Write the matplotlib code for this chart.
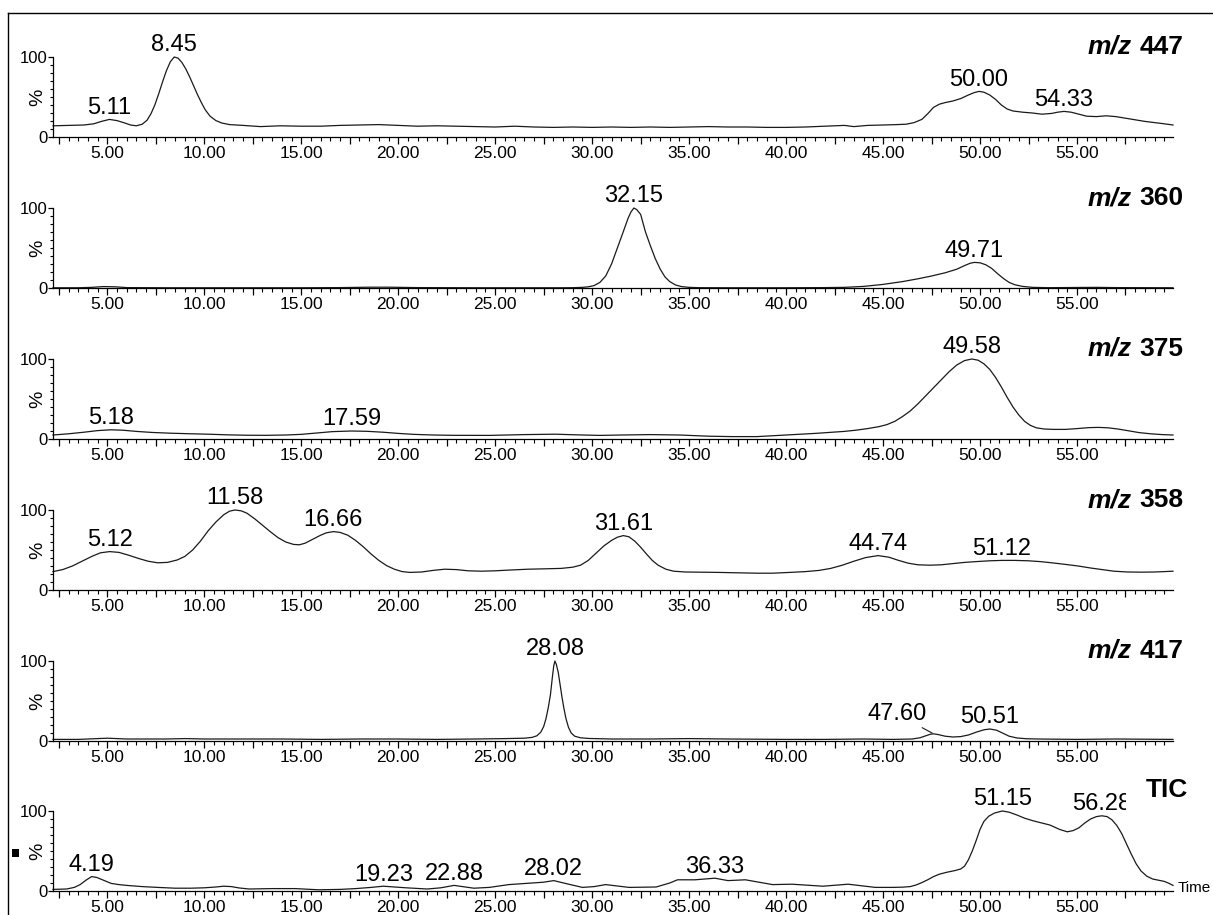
import matplotlib
matplotlib.use("Agg")
import matplotlib.pyplot as plt
from matplotlib.ticker import MultipleLocator, FixedLocator, FuncFormatter
from matplotlib.patches import Rectangle
from matplotlib.lines import Line2D

plt.rcParams['font.family'] = ['Liberation Sans', 'DejaVu Sans']

# ---- traces (retention time in min, relative intensity in %) ----
t_447 = [2.2, 3.0, 3.8, 4.3, 4.7, 5.11, 5.5, 5.9, 6.2, 6.5, 6.8, 7.05, 7.25, 7.45, 7.65, 7.85, 8.05, 8.25,
         8.45, 8.65, 8.85, 9.05, 9.25, 9.45, 9.65, 9.85, 10.05, 10.3, 10.6, 10.9, 11.3, 12.0, 12.9, 13.9,
         15, 16, 17, 18, 19, 20, 21, 22, 23, 24, 25, 26, 27, 28, 29, 30, 31, 32, 33, 34, 35, 36, 37, 38,
         39, 40, 41, 42, 43, 43.5, 44.2, 45, 45.7, 46.2, 46.6, 47.0, 47.3, 47.6, 47.9, 48.2, 48.6, 49.0,
         49.4, 49.7, 49.95, 50.2, 50.5, 50.8, 51.1, 51.4, 51.7, 52.2, 52.7, 53.2, 53.7, 54.0, 54.33, 54.7,
         55.1, 55.5, 56.0, 56.5, 57.0, 57.5, 58.0, 58.5, 59.0, 59.5, 59.95]
y_447 = [14, 14.5, 15, 16.5, 19.5, 22, 20.5, 17.5, 15, 14, 16, 21, 29, 40, 54, 69, 83, 94,
         100, 98.5, 93, 85, 75, 64, 53, 43, 34, 26, 20.5, 17.5, 15.5, 14.5, 13, 14,
         13.5, 13.5, 14.5, 15, 15.5, 14.5, 13.5, 14, 13.5, 13, 12.5, 13.5, 12.5, 12, 12.5, 12, 12.5, 12, 12.5, 12, 12.5, 13, 12.5, 12.5,
         12, 12, 12.5, 13.5, 14.5, 13, 14.5, 15, 15.5, 16, 18, 22, 29, 37, 41, 43, 45, 48,
         52.5, 55.5, 57, 56, 52.5, 47, 40, 35, 32.5, 31, 30, 28.5, 29.5, 31, 32, 31,
         28.5, 26, 25.5, 26.5, 25.5, 23.5, 21.5, 19.5, 18, 16.5, 15]

t_360 = [2.2, 3.5, 4.2, 4.8, 5.4, 6.0, 8, 10, 12, 15, 17, 18.5, 19.5, 21, 24, 27, 28.5, 29.0, 29.5,
         29.8, 30.1, 30.4, 30.7, 31.0, 31.3, 31.6, 31.85, 32.0, 32.15, 32.3, 32.5, 32.75, 33.0, 33.25,
         33.5, 33.75, 34.0, 34.3, 34.6, 35.0, 35.5, 37, 40, 42, 43, 44, 45, 46, 46.8, 47.5, 48.2, 48.8,
         49.2, 49.5, 49.71, 50.0, 50.3, 50.6, 50.9, 51.2, 51.5, 51.8, 52.2, 52.7, 53.5, 56, 57, 59.95]
y_360 = [0.3, 0.3, 0.8, 1.8, 1.5, 0.5, 0.3, 0.3, 0.3, 0.3, 0.5, 1, 1, 0.5, 0.3, 0.3, 0.3, 0.4, 0.8,
         1.5, 3, 7, 15, 30, 50, 70, 87, 95, 100, 98, 92, 70, 53, 37,
         24, 14, 8, 3.8, 1.8, 0.8, 0.4, 0.3, 0.3, 0.5, 0.8, 2, 4.5, 8, 11.5, 15, 19, 23.5,
         28, 31, 32, 31.5, 29, 24.5, 18, 12, 7, 4, 2, 0.8, 0.4, 0.8, 0.5, 0.3]

t_375 = [2.2, 3.0, 3.8, 4.5, 5.18, 5.8, 6.5, 7.3, 8.2, 9.2, 10.2, 11.2, 12.2, 13.2, 14.2, 15.0, 15.8,
         16.6, 17.59, 18.4, 19.2, 20.0, 20.8, 21.8, 22.8, 24.7, 26.5, 28.1, 29.5, 30.4, 31.5, 33, 34.5,
         36, 37.2, 38.5, 40, 41.5, 43, 43.6, 44.2, 44.8, 45.2, 45.6, 46.0, 46.4, 46.8, 47.2, 47.6, 48.0,
         48.4, 48.8, 49.2, 49.58, 49.9, 50.2, 50.5, 50.8, 51.1, 51.4, 51.7, 52.0, 52.3, 52.6, 52.9, 53.3,
         53.8, 54.4, 55.0, 55.6, 56.1, 56.6, 57.1, 57.6, 58.2, 58.8, 59.4, 59.95]
y_375 = [5, 6.5, 8.5, 10.5, 11.5, 11, 9.5, 8.2, 7.3, 6.6, 6, 5.2, 4.7, 4.6, 5, 5.8, 7.5,
         9.2, 10, 9.6, 8.5, 7, 5.8, 5, 4.6, 4.5, 5.5, 6, 5, 4.5, 5, 5.5, 5,
         3.5, 3, 3, 5, 7, 9.5, 11, 13, 15.5, 18, 22, 28, 35, 44, 54, 64, 74,
         84, 92.5, 98, 100, 98.5, 94, 87, 77, 65, 52, 40, 30, 22, 17, 14, 12.5,
         12, 12, 13, 14.2, 14.5, 14, 12.5, 10.5, 8, 6.5, 5.5, 5]

t_358 = [2.2, 2.7, 3.2, 3.7, 4.2, 4.65, 5.12, 5.6, 6.1, 6.6, 7.1, 7.6, 8.1, 8.6, 9.0, 9.4, 9.8, 10.2,
         10.6, 11.0, 11.3, 11.58, 11.9, 12.2, 12.6, 13.0, 13.4, 13.8, 14.2, 14.6, 14.9, 15.2, 15.6, 16.0,
         16.3, 16.66, 17.0, 17.4, 17.8, 18.2, 18.6, 19.0, 19.4, 19.8, 20.2, 20.6, 21.2, 21.8, 22.4, 23.0,
         23.6, 24.3, 25.0, 25.8, 26.7, 27.6, 28.4, 29.0, 29.4, 29.8, 30.2, 30.6, 31.0, 31.3, 31.61, 31.9,
         32.2, 32.5, 32.8, 33.1, 33.4, 33.8, 34.2, 34.8, 35.5, 36.5, 37.5, 38.5, 39.3, 40.2, 41.0, 41.7,
         42.3, 42.9, 43.5, 44.1, 44.74, 45.3, 45.8, 46.3, 46.8, 47.4, 48.0, 48.6, 49.2, 49.8, 50.5, 51.12,
         51.8, 52.5, 53.1, 53.7, 54.4, 55.06, 55.7, 56.3, 56.9, 57.6, 58.3, 59.0, 59.5, 59.95]
y_358 = [23, 25.5, 30, 36, 42, 46.5, 48, 47, 43.5, 39.5, 36, 34, 34.5, 37.5, 42, 50, 61, 74,
         85, 94, 98.5, 100, 99, 96, 89, 81, 73, 65.5, 60, 57, 56.5, 58.5, 63.5, 68.5,
         71.5, 73, 72, 68.5, 62, 54, 45, 37, 30.5, 26, 23, 22, 22.5, 24.5, 26, 25.5,
         24, 23.5, 24, 25, 26, 26.5, 27, 28.5, 31, 37, 46, 55, 62, 66, 68, 66.5,
         61, 53.5, 45, 37, 31, 26, 23.5, 22.5, 22.3, 22, 21.5, 21, 21, 22, 23, 24.5,
         27, 31, 36, 40.5, 43, 41, 37, 33.5, 31.5, 31, 31.5, 33, 34.5, 35.5, 36.5, 37,
         37, 36.5, 35.5, 34, 32, 30, 27.5, 25.5, 23.5, 22.5, 22.3, 22.5, 23, 23.5]

t_417 = [2.2, 3.5, 5, 6, 8, 9, 10, 12, 14, 16, 18, 20, 22, 24, 25.5, 26.5, 26.9, 27.15, 27.35, 27.5,
         27.62, 27.74, 27.85, 27.95, 28.02, 28.08, 28.15, 28.25, 28.35, 28.45, 28.55, 28.65, 28.78, 28.92,
         29.1, 29.4, 29.8, 31, 33, 35, 37, 40, 42, 44, 45.5, 46.5, 46.9, 47.2, 47.45, 47.6, 47.85, 48.2,
         48.6, 49.0, 49.4, 49.8, 50.2, 50.51, 50.85, 51.2, 51.5, 51.9, 52.4, 53, 55, 57, 59.95]
y_417 = [2, 2, 3.5, 2.5, 2.5, 3, 2.5, 2.5, 2.5, 2, 2.5, 2.5, 2, 2.5, 3, 3.5, 4.5, 6.5, 11, 18,
         28, 42, 58, 80, 94, 100, 96, 86, 70, 54, 40, 28, 17, 10,
         6, 4, 3.2, 2.5, 2.5, 3, 2.5, 2, 2, 2.5, 2, 2.5, 4, 6.5, 8.5, 9, 8, 6,
         5, 5.5, 7.5, 11, 14, 15, 13.5, 9.5, 6, 3.8, 2.8, 2.5, 2, 2.5, 2]

t_tic = [2.2, 2.9, 3.3, 3.6, 3.9, 4.19, 4.45, 4.8, 5.2, 5.6, 6.0, 6.8, 7.6, 8.5, 9.3, 10.0, 10.6, 11.0,
         11.4, 11.8, 12.3, 13.5, 14.7, 15.9, 17.0, 17.8, 18.6, 19.23, 20.4, 21.5, 22.2, 22.88, 23.9,
         24.7, 25.7, 26.9, 27.5, 28.02, 28.7, 29.5, 30.1, 30.7, 31.9, 33.3, 34.0, 34.4, 35.3, 36.33,
         37.0, 37.9, 38.6, 39.3, 40.3, 41.9, 43.2, 44.6, 45.5, 46.0, 46.4, 46.7, 47.0, 47.3, 47.6, 47.9,
         48.3, 48.7, 49.0, 49.2, 49.4, 49.6, 49.8, 50.0, 50.2, 50.45, 50.75, 51.15, 51.5, 51.9, 52.3,
         52.7, 53.1, 53.6, 54.1, 54.5, 54.8, 55.1, 55.4, 55.7, 56.0, 56.28, 56.55, 56.8, 57.05, 57.3,
         57.55, 57.8, 58.05, 58.3, 58.6, 58.9, 59.2, 59.5, 59.75, 59.95]
y_tic = [2, 2.5, 4.5, 8, 13.5, 18, 17, 13.5, 9.5, 8, 7, 5.5, 4.5, 3.5, 3.5, 4, 5, 6,
         5.5, 3.8, 2.5, 3, 3, 1.5, 2, 3, 4.5, 6, 4, 2.5, 4, 7, 3.5,
         4.5, 8, 10, 11, 13, 9, 4.5, 5.5, 8, 4.5, 5, 10, 14, 14, 16,
         13, 14, 11, 8, 8.5, 6, 8.5, 4.5, 4.5, 4.8, 5.5, 7.5, 10.5, 14, 18, 21,
         23.5, 25.5, 27.5, 31, 39, 50, 63, 77, 87, 93.5, 97.5, 100, 98.5, 95, 91,
         88, 85.5, 82.5, 77, 74, 75.5, 79, 85, 90, 93, 94, 93, 89, 82, 72,
         59, 46, 34, 25, 18.5, 15, 13.5, 12, 9.5, 7]

panel_titles = ['447', '360', '375', '358', '417', 'TIC']
traces = [(t_447, y_447), (t_360, y_360), (t_375, y_375), (t_358, y_358), (t_417, y_417), (t_tic, y_tic)]
peak_labels = [
    ['5.11', '8.45', '50.00', '54.33'],
    ['32.15', '49.71'],
    ['5.18', '17.59', '49.58'],
    ['5.12', '11.58', '16.66', '31.61', '44.74', '51.12'],
    ['28.08', '47.60', '50.51'],
    ['4.19', '19.23', '22.88', '28.02', '36.33', '51.15', '56.28'],
]

W, H = 1213, 915
fig = plt.figure(figsize=(W / 100, H / 100), dpi=100)

x_left, x_right = 53, 1173
zero_rows = [137, 288, 439, 590, 741, 891]
panel_h = 80
aw = x_right - x_left


def tick_fmt(v, pos):
    if abs(v / 5 - round(v / 5)) < 1e-6:
        return f'{v:.2f}'
    return ''


for k, ((tt, yy), title, labels) in enumerate(zip(traces, panel_titles, peak_labels)):
    y0 = zero_rows[k]
    ax = fig.add_axes([x_left / W, 1 - y0 / H, aw / W, panel_h / H])
    ax.plot(tt, yy, color='#1a1a1a', lw=0.9, clip_on=False)
    ax.set_xlim(2.2, 59.95)
    ax.set_ylim(0, 100)
    for s in ['top', 'right']:
        ax.spines[s].set_visible(False)
    ax.spines['left'].set_linewidth(0.9)
    ax.spines['bottom'].set_linewidth(0.9)

    ax.xaxis.set_major_locator(MultipleLocator(2.5))
    ax.xaxis.set_minor_locator(MultipleLocator(0.5))
    ax.xaxis.set_major_formatter(FuncFormatter(tick_fmt))
    ax.yaxis.set_major_locator(FixedLocator([0, 100]))
    ax.yaxis.set_minor_locator(MultipleLocator(10))
    ax.tick_params(axis='x', which='major', length=5, width=0.9, pad=1.5)
    ax.tick_params(axis='x', which='minor', length=3, width=0.8)
    ax.tick_params(axis='y', which='major', length=3.6, width=0.9, pad=0.5, labelsize=12)
    ax.tick_params(axis='y', which='minor', length=2.2, width=0.8)
    for lab in ax.get_xticklabels():
        lab.set_fontfamily(['Liberation Sans Narrow', 'Liberation Sans'])
        lab.set_fontsize(12.5)

    ax.text(-15 / aw, 50, '%', rotation=90, ha='center', va='center',
            fontsize=14, transform=ax.get_yaxis_transform())

    # peak labels
    for lab in labels:
        tp = float(lab)
        i = min(range(len(tt)), key=lambda j: abs(tt[j] - tp))
        if lab == '47.60':
            ax.annotate(lab, xy=(tt[i], yy[i]), xytext=(-26.5, 10), textcoords='offset points',
                        ha='center', va='baseline', fontsize=17,
                        arrowprops=dict(arrowstyle='-', lw=0.8, color='#1a1a1a',
                                        shrinkA=0, shrinkB=1))
        else:
            ax.annotate(lab, xy=(tt[i], yy[i]), xytext=(0, 4), textcoords='offset points',
                        ha='center', va='baseline', fontsize=17)

    if title == 'TIC':
        ax.text(1 + 15 / aw, 1 + 14 / panel_h, 'TIC', transform=ax.transAxes,
                ha='right', va='baseline', fontsize=19, fontweight='bold', zorder=10,
                bbox=dict(boxstyle='square,pad=0.75', facecolor='white', edgecolor='none'))
        ax.text(1 + 5 / aw, 3 / panel_h, 'Time', transform=ax.transAxes,
                ha='left', va='center', fontsize=11)
    else:
        num = ax.text(1 + 10 / aw, 1 + 3 / panel_h, title, transform=ax.transAxes,
                      ha='right', va='baseline', fontsize=19, fontweight='bold')
        ax.annotate('m/z', xy=(0, 0), xycoords=num, xytext=(-5.3, 0), textcoords='offset points',
                    ha='right', va='bottom', fontsize=19, fontweight='bold', fontstyle='italic')

# outer frame and marker
fig.add_artist(Line2D([8 / W, 8 / W], [1 - 13 / H, 0], transform=fig.transFigure, color='black', lw=1))
fig.add_artist(Line2D([8 / W, 1], [1 - 13 / H, 1 - 13 / H], transform=fig.transFigure, color='black', lw=1))
fig.add_artist(Rectangle((12 / W, 1 - 857 / H), 7 / W, 8 / H, transform=fig.transFigure,
                         facecolor='black', edgecolor='none'))

fig.savefig('out.png', dpi=100)
